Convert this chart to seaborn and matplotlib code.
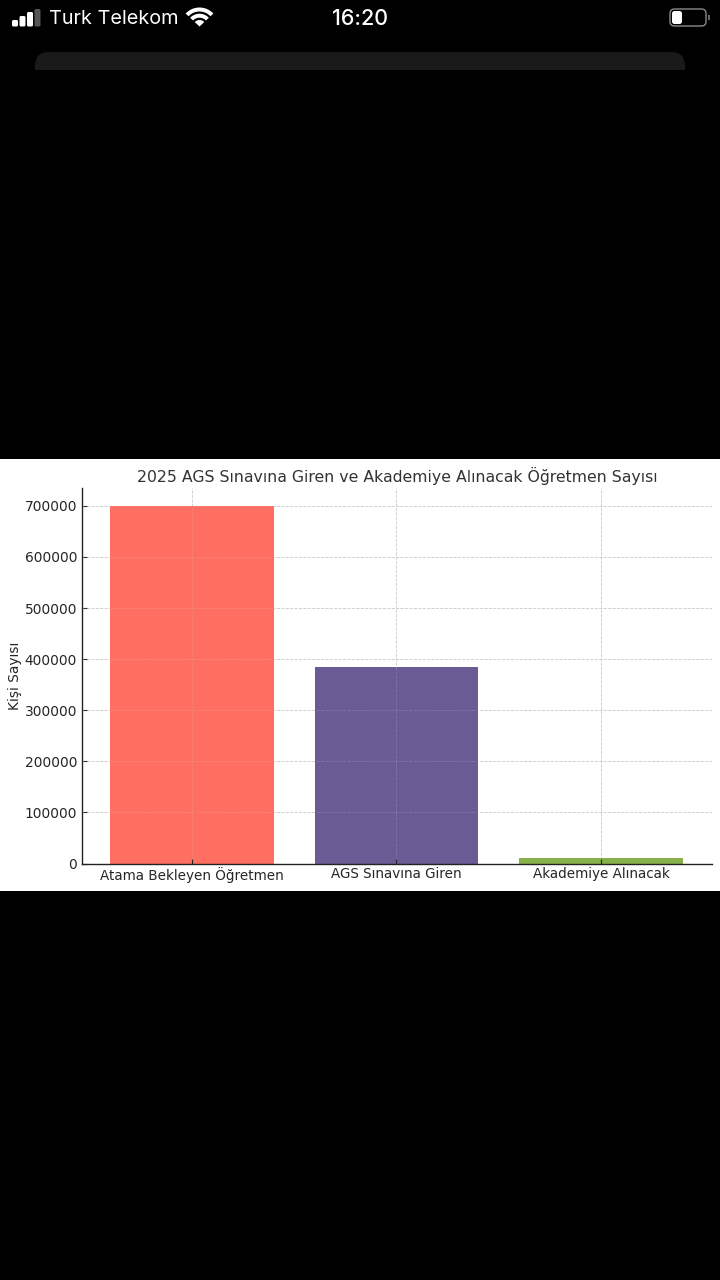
import numpy as np
import pandas as pd
import matplotlib
matplotlib.use("Agg")
import matplotlib.pyplot as plt
from matplotlib.patches import Rectangle, FancyBboxPatch, Wedge
import seaborn as sns

# --- Chart data ---
categories = ["Atama Bekleyen Öğretmen", "AGS Sınavına Giren", "Akademiye Alınacak"]
values = [700000, 384000, 10000]
bar_colors = ["#FF6F61", "#6B5B95", "#88B04B"]
y_ticks = [0, 100000, 200000, 300000, 400000, 500000, 600000, 700000]

title = "2025 AGS Sınavına Giren ve Akademiye Alınacak Öğretmen Sayısı"
y_label = "Kişi Sayısı"

W, H = 720, 1280
text_col = "#262626"

sns.set_style("white")
plt.rcParams["font.family"] = ["DejaVu Sans"]

fig = plt.figure(figsize=(W / 100, H / 100), dpi=100, facecolor="black")

# --- Phone screenshot chrome, in pixel coordinates ---
bg = fig.add_axes([0, 0, 1, 1], zorder=0)
bg.set_xlim(0, W)
bg.set_ylim(H, 0)
bg.axis("off")
bg.add_patch(Rectangle((0, 459), W, 432, color="white", lw=0))

# rounded panel under status bar, cut off at y=69
panel = FancyBboxPatch((35, 52), 650, 40, boxstyle="round,pad=0,rounding_size=14",
                       fc="#1a1a1a", ec="none")
bg.add_patch(panel)
bg.add_patch(Rectangle((0, 69.5), W, 40, color="black", lw=0))

# signal bars
for x, top, col in [(12, 20, "white"), (19.5, 16, "white"), (27, 12, "white"), (34.5, 9, "#555555")]:
    bg.add_patch(FancyBboxPatch((x, top), 6, 26.5 - top, boxstyle="round,pad=0,rounding_size=1.5",
                                fc=col, ec="none"))

bg.text(49, 19, "Turk Telekom", color="white", fontsize=14.3, family="Inter",
        ha="left", va="center")
bg.text(360, 19, "16:20", color="white", fontsize=15.5, family="Inter",
        ha="center", va="center", fontweight="medium")

# wifi icon
for r, w in [(19, 4), (12.8, 4)]:
    bg.add_patch(Wedge((199.5, 26.5), r, 223, 317, width=w, fc="white", ec="none"))
bg.add_patch(Wedge((199.5, 26.5), 6.5, 223, 317, fc="white", ec="none"))

# battery
bg.add_patch(FancyBboxPatch((670, 9), 36, 17, boxstyle="round,pad=0,rounding_size=4.5",
                            fc="none", ec="#8a8a8a", lw=1))
bg.add_patch(FancyBboxPatch((672, 11), 10, 13, boxstyle="round,pad=0,rounding_size=2.5",
                            fc="white", ec="none"))
bg.add_patch(Rectangle((708, 15), 1.5, 5, color="#666666", lw=0))

# --- Bar chart ---
df = pd.DataFrame({"category": categories, "value": values})
ax = fig.add_axes([82 / W, 1 - 863.5 / H, 630 / W, 375.5 / H], zorder=1)
ax.patch.set_alpha(0)
sns.barplot(data=df, x="category", y="value", hue="category", palette=bar_colors,
            width=0.8, saturation=1, legend=False, linewidth=0, ax=ax)

ax.set_xlim(-0.538, 2.543)
ax.set_ylim(0, 735000)
ax.set_yticks(y_ticks)
ax.set_title(title, fontsize=11.3, color="#333333", y=1.0, pad=4.5)
ax.set_xlabel("")
ax.set_ylabel(y_label, fontsize=9.9, color=text_col, labelpad=2)

ax.grid(True, color="#bdbdbd", linestyle="--", linewidth=0.6, alpha=0.8)
ax.set_axisbelow(True)
ax.tick_params(axis="both", direction="in", length=3.5, width=0.8, color="#222222",
               labelcolor=text_col, labelsize=9.9, bottom=True, left=True)
ax.tick_params(axis="x", labelsize=9.75, pad=2.5)
ax.tick_params(axis="y", pad=3.5)

# faint copy of the grid over the bars, plus the x ticks the bars would hide
for t in y_ticks[1:]:
    ax.axhline(t, color="#d0d0d0", linestyle="--", linewidth=0.6, alpha=0.22, zorder=3)
for i in range(len(categories)):
    ax.axvline(i, color="#d0d0d0", linestyle="--", linewidth=0.6, alpha=0.22, zorder=3)
ax.vlines(range(len(categories)), 0, 0.012, transform=ax.get_xaxis_transform(),
          color="#222222", linewidth=0.8, zorder=4)

for side in ["top", "right"]:
    ax.spines[side].set_visible(False)
for side in ["left", "bottom"]:
    ax.spines[side].set_color("#222222")
    ax.spines[side].set_linewidth(1)

fig.savefig("out.png", dpi=100, facecolor="black")
